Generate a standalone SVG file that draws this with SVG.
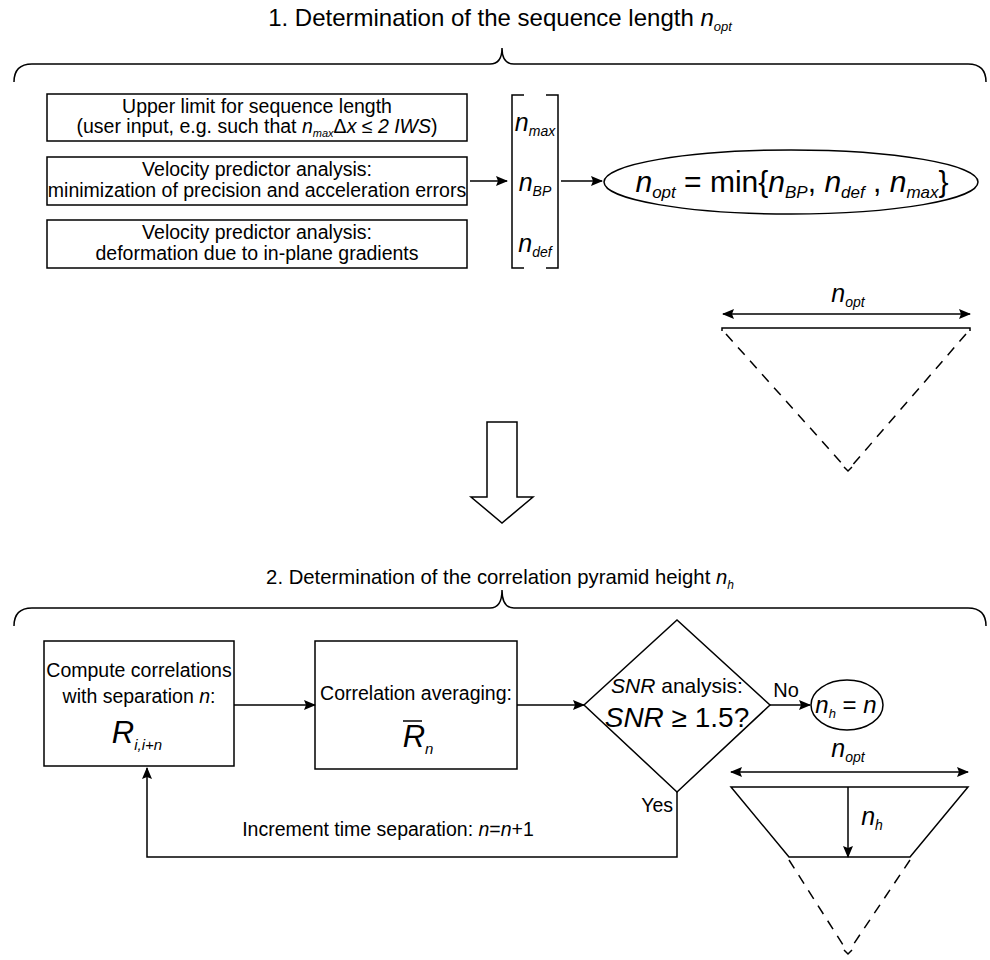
<svg xmlns="http://www.w3.org/2000/svg" width="990" height="960" viewBox="0 0 990 960">
<defs>
<marker id="ah" markerWidth="12" markerHeight="10" refX="11" refY="5" orient="auto-start-reverse" markerUnits="userSpaceOnUse"><path d="M0,0 L12,5 L0,10 L2,5 z" fill="#000"/></marker>
</defs>
<style>
text { font-family: "Liberation Sans", Arial, sans-serif; fill: #000; }
.box { fill: #fff; stroke: #000; stroke-width: 1.5; }
.ln { fill: none; stroke: #000; stroke-width: 1.5; }
.arr { fill: none; stroke: #000; stroke-width: 1.5; marker-end: url(#ah); }
.dbl { fill: none; stroke: #000; stroke-width: 1.5; marker-start: url(#ah); marker-end: url(#ah); }
.dash { fill: none; stroke: #000; stroke-width: 1.5; stroke-dasharray: 10 8; }
.it { font-style: italic; }
.t { font-size: 19.5px; text-anchor: middle; }
.m { font-size: 25px; text-anchor: middle; font-style: italic; }
</style>

<g id="title1">
<text x="500" y="26" font-size="24" text-anchor="middle">1. Determination of the sequence length <tspan class="it">n</tspan><tspan class="it" font-size="13" dy="5">opt</tspan></text>
<path class="ln" d="M14,82 Q14,64 32,64 L490,64 Q502,64 502,48 Q502,64 514,64 L968,64 Q986,64 986,82"/>
</g>

<g id="box1">
<rect class="box" x="47" y="94" width="420" height="47"/>
<text class="t" x="257" y="113">Upper limit for sequence length</text>
<text class="t" x="257" y="133">(user input, e.g. such that <tspan class="it">n</tspan><tspan class="it" font-size="11" dy="4">max</tspan><tspan dy="-4">Δ</tspan><tspan class="it">x</tspan> ≤ <tspan class="it">2 IWS</tspan>)</text>
</g>
<g id="box2">
<rect class="box" x="47" y="157" width="420" height="48"/>
<text class="t" x="257" y="176">Velocity predictor analysis:</text>
<text class="t" x="257" y="197">minimization of precision and acceleration errors</text>
</g>
<g id="box3">
<rect class="box" x="47" y="220" width="420" height="48"/>
<text class="t" x="257" y="239">Velocity predictor analysis:</text>
<text class="t" x="257" y="260">deformation due to in-plane gradients</text>
</g>

<g id="vector">
<path class="ln" d="M524,95 L512,95 L512,268 L524,268 M546,95 L558,95 L558,268 L546,268"/>
<text class="m" x="535" y="131">n<tspan font-size="14" dy="5">max</tspan></text>
<text class="m" x="535" y="191">n<tspan font-size="14" dy="5">BP</tspan></text>
<text class="m" x="535" y="252">n<tspan font-size="14" dy="5">def</tspan></text>
</g>

<g id="nopt">
<ellipse class="box" cx="791" cy="182" rx="187" ry="32"/>
<text x="792" y="192" font-size="30" text-anchor="middle"><tspan class="it">n</tspan><tspan class="it" font-size="17" dy="6">opt</tspan><tspan dy="-6"> = min{</tspan><tspan class="it">n</tspan><tspan class="it" font-size="17" dy="6">BP</tspan><tspan dy="-6">, </tspan><tspan class="it">n</tspan><tspan class="it" font-size="17" dy="6">def</tspan><tspan dy="-6"> , </tspan><tspan class="it">n</tspan><tspan class="it" font-size="17" dy="6">max</tspan><tspan dy="-6">}</tspan></text>
</g>

<g id="triangle1">
<text class="m" x="848" y="302">n<tspan font-size="14" dy="5">opt</tspan></text>
<line class="dbl" x1="723" y1="314" x2="970" y2="314"/>
<path class="ln" d="M722,331 L722,328 L970,328 L970,331"/>
<path class="dash" d="M726,334 L846,468 M966,334 L850,468"/>
<path class="ln" d="M844,467 L848,471 L852,467"/>
</g>

<g id="bigarrow">
<polygon class="box" points="487,422 517,422 517,497 533,497 502,523 471,497 487,497"/>
</g>

<g id="title2">
<text x="500" y="584" font-size="20.3" text-anchor="middle">2. Determination of the correlation pyramid height <tspan class="it">n</tspan><tspan class="it" font-size="12" dy="5">h</tspan></text>
<path class="ln" d="M14,626 Q14,608 32,608 L490,608 Q502,608 502,590 Q502,608 514,608 L968,608 Q986,608 986,626"/>
</g>

<g id="compute">
<rect class="box" x="44" y="641" width="190" height="125"/>
<text class="t" x="139" y="677">Compute correlations</text>
<text class="t" x="139" y="703">with separation <tspan class="it">n</tspan>:</text>
<text x="137" y="743" font-size="31" text-anchor="middle" class="it">R<tspan font-size="15" dy="7">i,i+n</tspan></text>
</g>

<g id="averaging">
<rect class="box" x="315" y="641" width="202" height="128"/>
<text class="t" x="416" y="700">Correlation averaging:</text>
<text x="418" y="747" font-size="31" text-anchor="middle" class="it">R<tspan font-size="15" dy="7">n</tspan></text>
<line class="ln" x1="403" y1="721" x2="422" y2="721"/>
</g>

<g id="snr">
<polygon class="box" points="584,705 677,620 770,705 677,792"/>
<text x="677" y="693" font-size="21" text-anchor="middle"><tspan class="it">SNR</tspan> analysis:</text>
<text x="677" y="727" font-size="28" text-anchor="middle"><tspan class="it">SNR</tspan> ≥ 1.5?</text>
</g>

<g id="nh">
<ellipse class="box" cx="847" cy="705" rx="36" ry="25"/>
<text x="846" y="713" font-size="24" text-anchor="middle"><tspan class="it">n</tspan><tspan class="it" font-size="13" dy="5">h</tspan><tspan dy="-5"> = </tspan><tspan class="it">n</tspan></text>
</g>

<g id="pyramid">
<text class="m" x="848" y="757">n<tspan font-size="14" dy="5">opt</tspan></text>
<line class="dbl" x1="731" y1="772" x2="968" y2="772"/>
<path class="ln" d="M731,787 L968,787 L910,857 L789,857 Z"/>
<line class="arr" x1="848" y1="787" x2="848" y2="857"/>
<text class="m" x="872" y="825">n<tspan font-size="14" dy="5">h</tspan></text>
<path class="dash" d="M789,860 L845,948 M910,860 L851,948"/>
<path class="ln" d="M844,950 L848,954 L852,950"/>
</g>

<g id="connectors">
<line class="arr" x1="470" y1="181" x2="507" y2="181"/>
<line class="arr" x1="561" y1="181" x2="602" y2="181"/>
<line class="arr" x1="234" y1="705" x2="315" y2="705"/>
<line class="arr" x1="517" y1="705" x2="584" y2="705"/>
<line class="arr" x1="770" y1="705" x2="810" y2="705"/>
<text x="786" y="697" font-size="20" text-anchor="middle">No</text>
<path class="arr" d="M677,792 L677,857 L147,857 L147,768"/>
<text x="673" y="812" font-size="19.5" text-anchor="end">Yes</text>
<text x="388" y="836" font-size="19.5" text-anchor="middle">Increment time separation: <tspan class="it">n</tspan>=<tspan class="it">n</tspan>+1</text>
</g>
</svg>
